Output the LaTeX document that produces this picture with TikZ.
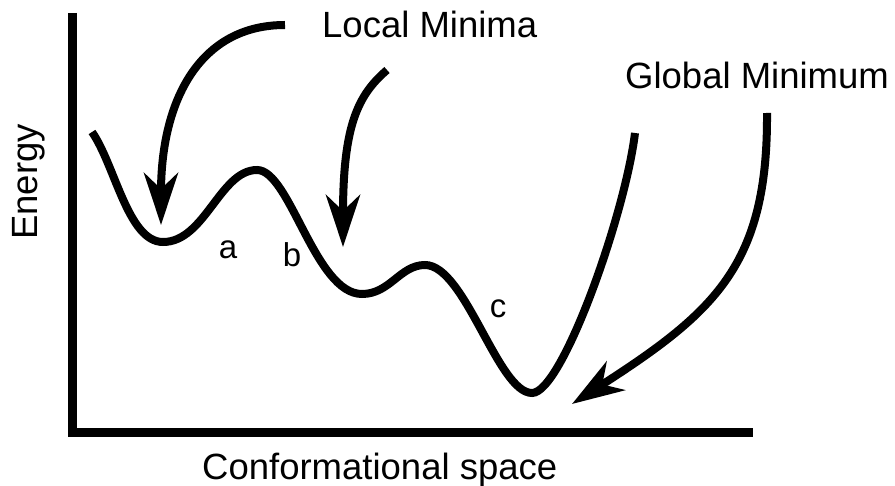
\documentclass[tikz,border=0pt]{standalone}
\usepackage{fontspec}
\setmainfont{Liberation Sans}
\usetikzlibrary{arrows.meta, positioning}

\tikzset{
  axis/.style={line width=9pt, line join=miter},
  landscape/.style={line width=8pt},
  bigarrow/.style={line width=8pt, -{Stealth[length=52pt, width=34pt, inset=16pt]}},
  lbl/.style={inner sep=0pt, font=\fontsize{36.5}{40}\selectfont},
  well/.style={inner sep=0pt, font=\fontsize{33}{36}\selectfont}
}

\begin{document}
\begin{tikzpicture}[x=1pt, y=-1pt]
  \useasboundingbox (0,0) rectangle (895,486);

  % --- axes ---
  \coordinate (top) at (72,13);
  \coordinate (origin) at (72,433);
  \coordinate (right) at (753,433);
  \draw[axis] (top) -- (origin) -- (right);
  \node[lbl, rotate=90, anchor=base] (energy) at (37,182) {Energy};
  \node[lbl, anchor=base west] (space) at (202,479) {Conformational space};

  % --- energy landscape (extrema of the curve) ---
  \coordinate (start) at (92,132);
  \coordinate (min1) at (163,242);
  \coordinate (max1) at (257,170);
  \coordinate (min2) at (362,294);
  \coordinate (max2) at (425,265);
  \coordinate (min3) at (532,393);
  \coordinate (end) at (635,133);
  \draw[landscape] (start) .. controls (115,165) and (128,242) .. (min1)
    .. controls (205,242) and (220,170) .. (max1)
    .. controls (290,170) and (315,294) .. (min2)
    .. controls (390,294) and (400,265) .. (max2)
    .. controls (465,265) and (498,393) .. (min3)
    .. controls (562,393) and (625,215) .. (end);
  \node[well] (a) at (228,250) {a};
  \node[well] (b) at (292,255) {b};
  \node[well] (c) at (498,309) {c};

  % --- labels and pointers ---
  \node[lbl, anchor=base west] (local) at (322,38) {Local Minima};
  \node[lbl, anchor=base west] (global) at (625,89) {Global Minimum};

  \coordinate (l1) at (285,25);   \coordinate (m1) at (161,225);
  \coordinate (l2) at (387,70);   \coordinate (m2) at (343,247);
  \coordinate (g1) at (767,113);  \coordinate (m3) at (572,404);

  \draw[bigarrow] (l1) .. controls (200,25) and (161,100) .. (m1);
  \draw[bigarrow] (l2) .. controls (358,95) and (343,125) .. (m2);
  \draw[bigarrow] (g1) .. controls (768,265) and (715,312) .. (m3);

\end{tikzpicture}
\end{document}
